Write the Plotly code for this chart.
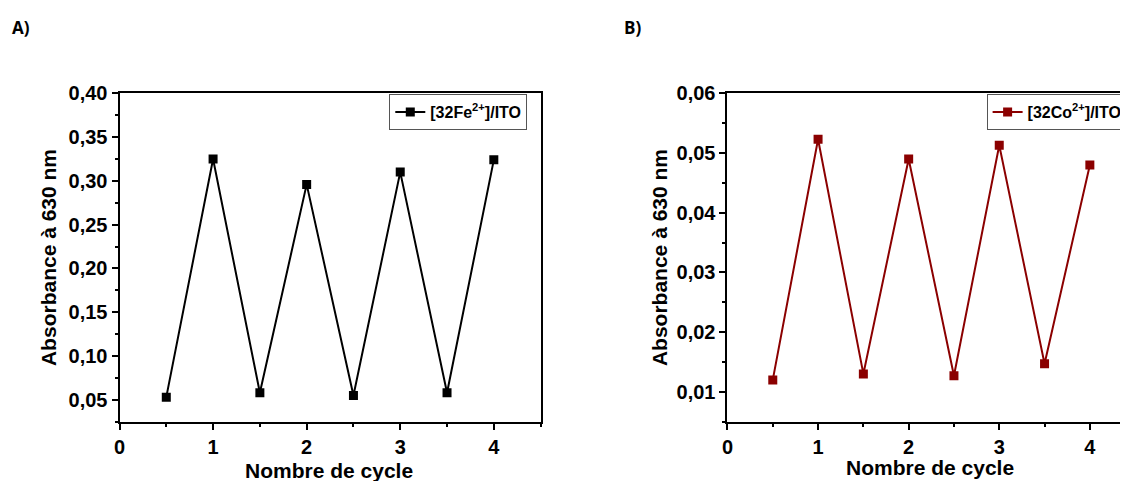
import plotly.graph_objects as go

# Data
cycles = [0.5, 1.0, 1.5, 2.0, 2.5, 3.0, 3.5, 4.0]
abs_fe = [0.053, 0.325, 0.058, 0.296, 0.055, 0.310, 0.058, 0.324]
abs_co = [0.0120, 0.0523, 0.0130, 0.0490, 0.0127, 0.0513, 0.0147, 0.0480]
name_fe = "<b>[32Fe<sup>2+</sup>]/ITO</b>"
name_co = "<b>[32Co<sup>2+</sup>]/ITO</b>"
x_title = "Nombre de cycle"
y_title = "Absorbance à 630 nm"

# The page body has an 8px margin, so the figure is drawn 8px in from the corner
OFF = 8
W, H = 1128 - OFF, 481 - OFF
FONT = "Liberation Sans"
RED = "#8B0000"

def px(v):
    return (v - OFF) / W

def py(v):
    return 1 - (v - OFF) / H

fig = go.Figure()
fig.add_trace(go.Scatter(x=cycles, y=abs_fe, mode="lines+markers", name=name_fe,
                         line=dict(color="black", width=2),
                         marker=dict(symbol="square", size=9, color="black"),
                         xaxis="x", yaxis="y", legend="legend"))
fig.add_trace(go.Scatter(x=cycles, y=abs_co, mode="lines+markers", name=name_co,
                         line=dict(color=RED, width=2),
                         marker=dict(symbol="square", size=9, color=RED),
                         xaxis="x2", yaxis="y2", legend="legend2"))

tickfont = dict(family=FONT, size=20, color="black", weight="bold")
titlefont = dict(family=FONT, size=21, color="black", weight="bold")

common_x = dict(showline=True, linecolor="black", linewidth=2, ticks="outside",
                ticklen=6, tickwidth=2, tickcolor="black", dtick=1, tick0=0,
                showgrid=False, zeroline=False, tickfont=tickfont,
                minor=dict(dtick=0.5, ticks="outside", ticklen=3, tickwidth=2, tickcolor="black"),
                automargin=False)
common_y = dict(showline=True, linecolor="black", linewidth=2, ticks="outside",
                ticklen=6, tickwidth=2, tickcolor="black", showgrid=False,
                zeroline=False, tickfont=tickfont, tickformat=".2f",
                automargin=False)

ydom = [py(421.7), py(93.3)]

fig.update_layout(
    width=W, height=H, autosize=False,
    margin=dict(l=0, r=0, t=0, b=0),
    paper_bgcolor="white", plot_bgcolor="white",
    separators=",.",
    xaxis=dict(common_x, domain=[px(120), px(543)], range=[0, 4.5], anchor="y", mirror=True),
    yaxis=dict(common_y, domain=ydom, range=[0.025, 0.40], dtick=0.05, tick0=0.05,
               anchor="x", mirror=True,
               minor=dict(dtick=0.025, ticks="outside", ticklen=3, tickwidth=2, tickcolor="black"),
               title=dict(text=y_title, font=titlefont, standoff=6)),
    xaxis2=dict(common_x, domain=[px(730.7), 1.0], range=[0, (1128 - 730.7) / 91.0], anchor="y2",
                mirror=True),
    yaxis2=dict(common_y, domain=ydom, range=[0.005, 0.06], dtick=0.01, tick0=0.01,
                anchor="x2", mirror=False,
                minor=dict(dtick=0.005, ticks="outside", ticklen=3, tickwidth=2, tickcolor="black"),
                title=dict(text=y_title, font=titlefont, standoff=3)),
    legend=dict(x=px(391), y=py(94), xanchor="left", yanchor="top",
                bordercolor="#555555", borderwidth=1, bgcolor="white",
                font=dict(family=FONT, size=16, color="black"),
                itemwidth=30, tracegroupgap=0),
    legend2=dict(x=px(991), y=py(94), xanchor="left", yanchor="top",
                 bordercolor="#555555", borderwidth=1, bgcolor="white",
                 font=dict(family=FONT, size=16, color="black"),
                 itemwidth=30, tracegroupgap=0),
    showlegend=True,
    annotations=[
        dict(text="<b>A)</b>", x=px(10), y=py(27), xref="paper", yref="paper",
             xanchor="left", yanchor="middle", showarrow=False,
             font=dict(family="Open Sans", size=17, color="black")),
        dict(text="<b>B)</b>", x=px(625), y=py(27), xref="paper", yref="paper",
             xanchor="left", yanchor="middle", showarrow=False,
             font=dict(family="Open Sans", size=17, color="black")),
        dict(text=x_title, x=px(330), y=py(470), xref="paper", yref="paper",
             xanchor="center", yanchor="middle", showarrow=False, font=titlefont),
        dict(text=x_title, x=px(934), y=py(467), xref="paper", yref="paper",
             xanchor="center", yanchor="middle", showarrow=False, font=titlefont),
    ],
)

fig.write_html("out.html")
